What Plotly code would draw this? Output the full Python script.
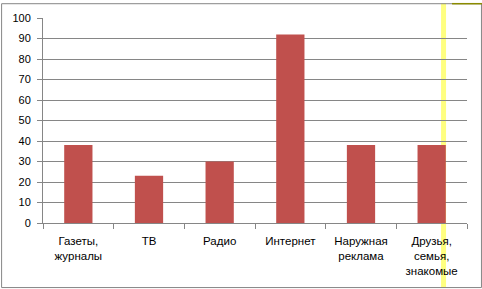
import plotly.graph_objects as go

categories = ["Газеты,<br>журналы", "ТВ", "Радио", "Интернет", "Наружная<br>реклама", "Друзья,<br>семья,<br>знакомые"]
values = [38, 23, 30, 92, 38, 38]
y_ticks = list(range(0, 101, 10))

W, H = 482, 289
L, R, T, B = 42, 15, 15, 66
pw, ph = W - L - R, H - T - B

fig = go.Figure(go.Bar(x=categories, y=values, marker_color="#C0504D", marker_line_width=0, width=0.4))

grid = "#868686"
fig.update_layout(
    width=W, height=H,
    margin=dict(l=L, r=R, t=T, b=B),
    paper_bgcolor="white", plot_bgcolor="white",
    font=dict(family="Liberation Sans, Arial, sans-serif", size=11, color="#000000"),
    showlegend=False,
    xaxis=dict(type="category", showgrid=False, showline=True, linecolor=grid, linewidth=1,
               ticks="outside", tickson="boundaries", ticklen=5, tickcolor=grid,
               ticklabelstandoff=7, tickangle=0, tickfont=dict(size=11.5)),
    yaxis=dict(range=[0, 100], tickvals=y_ticks, showgrid=True, gridcolor=grid, gridwidth=1,
               showline=True, linecolor=grid, linewidth=1, ticks="outside", ticklen=5,
               tickcolor=grid, zeroline=False, ticklabelstandoff=4),
    shapes=[
        dict(type="rect", xref="paper", yref="paper",
             x0=(441 - L) / pw, x1=(446 - L) / pw, y0=-(B) / ph, y1=1 + T / ph,
             fillcolor="#FFFF80", line_width=0, layer="between"),
        dict(type="rect", xref="paper", yref="paper",
             x0=(0.5 - L) / pw, x1=(W - 0.5 - L) / pw, y0=-(B - 0.5) / ph, y1=1 + (T - 0.5) / ph,
             line=dict(color=grid, width=1), fillcolor="rgba(0,0,0,0)", layer="above"),
        dict(type="line", xref="paper", yref="paper",
             x0=(452 - L) / pw, x1=(W - L) / pw, y0=1 + (T - 0.5) / ph, y1=1 + (T - 0.5) / ph,
             line=dict(color="#8B8B00", width=1.5), layer="above"),
    ],
)

fig.write_html("out.html")
